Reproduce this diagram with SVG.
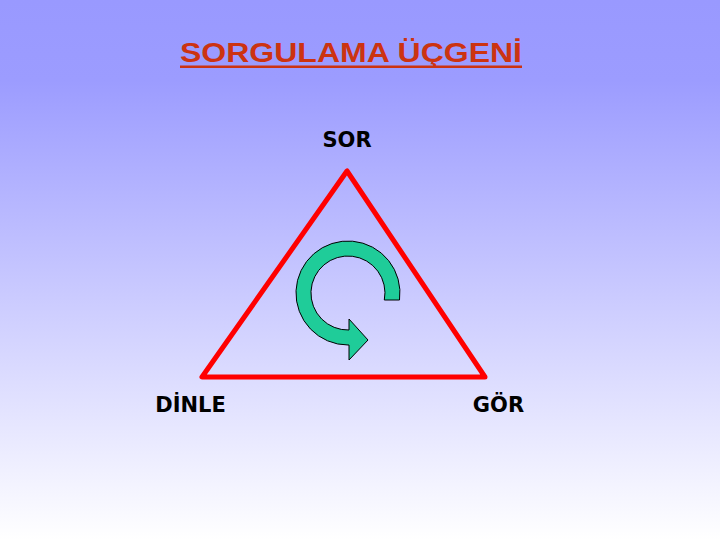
<svg xmlns="http://www.w3.org/2000/svg" width="720" height="540" viewBox="0 0 720 540">
<defs>
<linearGradient id="bg" x1="0" y1="0" x2="0" y2="1">
<stop offset="0" stop-color="#9999FF"/>
<stop offset="0.15" stop-color="#9C9CFF"/>
<stop offset="1" stop-color="#FFFFFF"/>
</linearGradient>
<style>
.lbl{font-family:"DejaVu Sans",Verdana,sans-serif;font-weight:bold;font-size:21px;fill:#000}
.title{font-family:"Liberation Sans",Arial,sans-serif;font-weight:bold;font-size:27px;fill:#CC3311}
</style>
</defs>
<rect width="720" height="540" fill="url(#bg)"/>
<g id="title">
<text class="title" x="180" y="62" textLength="342" lengthAdjust="spacingAndGlyphs">SORGULAMA ÜÇGENİ</text>
<rect x="180" y="65.5" width="342" height="2.5" fill="#CC3311"/>
</g>
<g id="connectors">
<polygon points="347,171 202,377 485,377" fill="none" stroke="#FF0000" stroke-width="5" stroke-linejoin="round"/>
</g>
<g id="cycle">
<path d="M399.5,300 A52,52 0 1 0 348,345 L349,345 L349,360 L368,340 L349,319 L349,330 A37,37 0 1 1 384.3,300 Z" fill="#1FCC99" stroke="#000" stroke-width="1"/>
</g>
<g id="sor"><text class="lbl" x="347" y="147" text-anchor="middle">SOR</text></g>
<g id="dinle"><text class="lbl" x="190.5" y="412" text-anchor="middle">DİNLE</text></g>
<g id="gor"><text class="lbl" x="498.5" y="412" text-anchor="middle">GÖR</text></g>
</svg>
